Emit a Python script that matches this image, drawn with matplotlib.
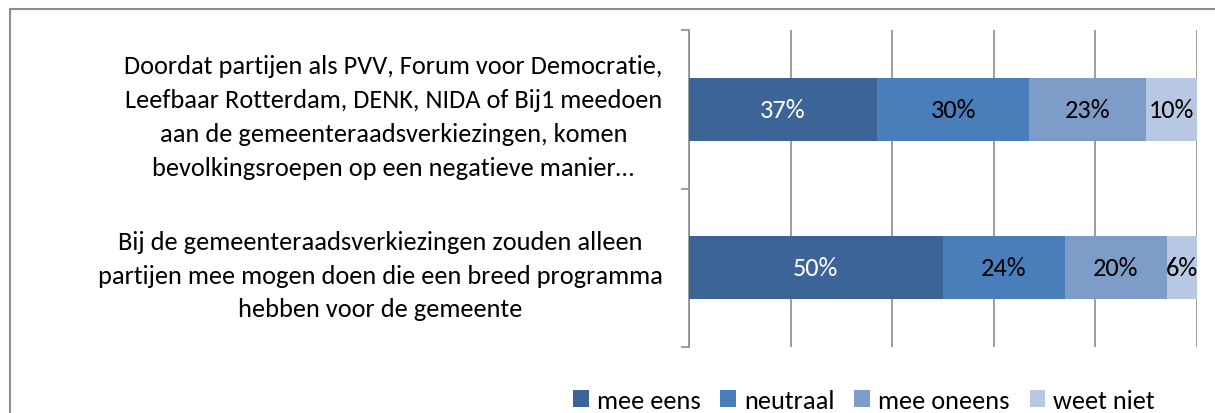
import matplotlib.pyplot as plt
from matplotlib.lines import Line2D

plt.rcParams['font.family'] = ['Carlito', 'Lato', 'DejaVu Sans']

# data
categories = [
    "Doordat partijen als PVV, Forum voor Democratie,\n"
    "Leefbaar Rotterdam, DENK, NIDA of Bij1 meedoen\n"
    "aan de gemeenteraadsverkiezingen, komen\n"
    "bevolkingsroepen op een negatieve manier\u2026",
    "Bij de gemeenteraadsverkiezingen zouden alleen\n"
    "partijen mee mogen doen die een breed programma\n"
    "hebben voor de gemeente",
]
series = ["mee eens", "neutraal", "mee oneens", "weet niet"]
mee_eens = [37, 50]
neutraal = [30, 24]
mee_oneens = [23, 20]
weet_niet = [10, 6]
values = [mee_eens, neutraal, mee_oneens, weet_niet]
colors = ["#3C6496", "#4A7EBB", "#7E9CC8", "#B9C8E2"]
text_colors = ["white", "black", "black", "black"]

fig = plt.figure(figsize=(12.15, 4.14), dpi=100)
ax = fig.add_axes([689/1215, 1-348/414, (1197-689)/1215, (348-31)/414])

ypos = [0, 1]
left = [0, 0]
for name, vals, col, tc in zip(series, values, colors, text_colors):
    bars = ax.barh(ypos, vals, left=left, height=0.4, color=col, label=name, zorder=3)
    ax.bar_label(bars, labels=[f"{v}%" for v in vals], label_type='center',
                 color=tc, fontsize=19)
    left = [l + v for l, v in zip(left, vals)]

ax.set_xlim(0, 100)
ax.set_ylim(1.5, -0.5)
ax.set_xticks([0, 20, 40, 60, 80, 100])
ax.tick_params(axis='x', length=0, labelbottom=False)
ax.grid(axis='x', color='#8c8c8c', linewidth=1.2, zorder=0)

ax.set_yticks([-0.5, 0.5, 1.5])
ax.set_yticklabels([])
ax.set_yticks(ypos, minor=True)
ax.set_yticklabels(categories, minor=True, fontsize=19, linespacing=1.57)
ax.tick_params(axis='y', which='major', length=6, color='#8c8c8c', width=1.2)
ax.tick_params(axis='y', which='minor', length=0, pad=19)
for lbl in ax.get_yticklabels(minor=True):
    lbl.set_multialignment('center')

for s in ['top', 'right', 'bottom']:
    ax.spines[s].set_visible(False)
ax.spines['left'].set_color('#8c8c8c')
ax.spines['left'].set_linewidth(1.2)

ax.legend(loc='lower center', bbox_to_anchor=(864/1215, -0.055), bbox_transform=fig.transFigure,
          ncol=4, frameon=False, fontsize=19, handlelength=0.6, handleheight=0.6,
          handletextpad=0.3, columnspacing=0.75)

# outer frame of the chart area
fig.add_artist(Line2D([10/1215, 10/1215], [0, 1-10/414], color='#8c8c8c', linewidth=1.5,
                      transform=fig.transFigure))
fig.add_artist(Line2D([10/1215, 1], [1-10/414, 1-10/414], color='#8c8c8c', linewidth=1.5,
                      transform=fig.transFigure))

fig.savefig('out.png', dpi=100)
